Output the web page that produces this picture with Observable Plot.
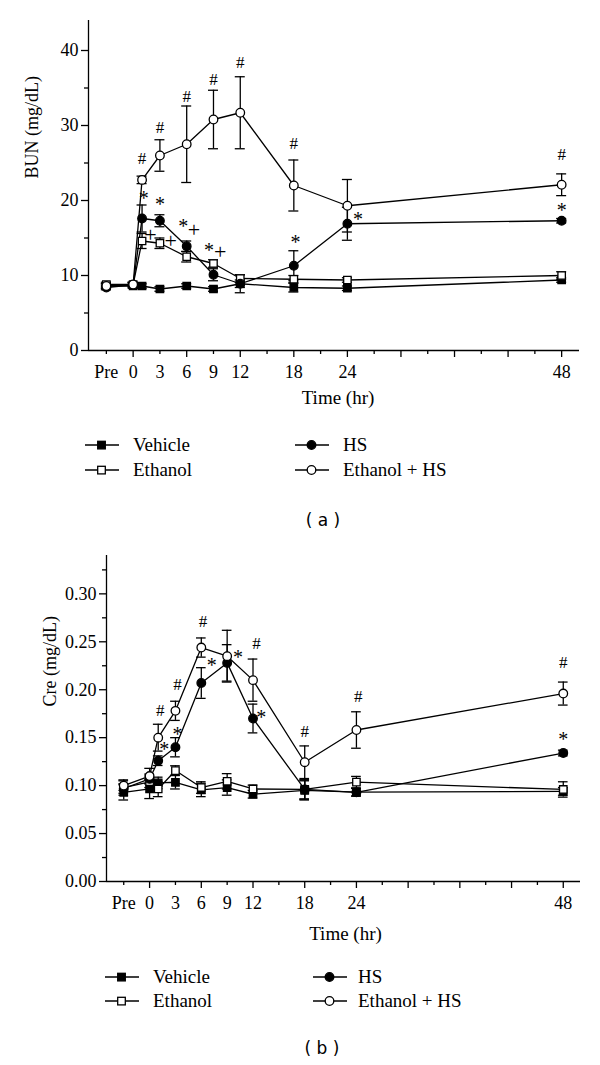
<!DOCTYPE html>
<html>
<head>
<meta charset="utf-8">
<script src="https://cdn.jsdelivr.net/npm/d3@7"></script>
<script src="https://cdn.jsdelivr.net/npm/@observablehq/plot@0.6"></script>
<style>
  body { margin: 0; background: white; }
  #page { position: relative; width: 600px; height: 1065px; background: white; overflow: hidden; }
  .panel { position: absolute; left: 0; }
  .leg { position: absolute; font-family: "Liberation Serif", serif; font-size: 19px; color: black; white-space: nowrap; line-height: 1; }
  .leg svg { position: absolute; }
  .cap { position: absolute; font-family: "DejaVu Sans", sans-serif; font-size: 17px; color: black; transform: translate(-50%, -50%); white-space: pre; }
</style>
</head>
<body>
<div id="page"></div>
<script>
// ---------- data ----------
const hours = [-3, 0, 1, 3, 6, 9, 12, 18, 24, 48];
const xLabelHours = [-3, 0, 3, 6, 9, 12, 18, 24, 48];
const xLabels = ["Pre", "0", "3", "6", "9", "12", "18", "24", "48"];
const xMajorTicks = [0, 6, 12, 18, 24, 30, 36, 42, 48];
const xMinorTicks = [-3, 3, 9, 15, 21, 27, 33, 39, 45];
const seriesNames = ["Vehicle", "Ethanol", "HS", "Ethanol + HS"];

// Panel (a): BUN (mg/dL)
const bunTicks = [0, 10, 20, 30, 40];
const bunMinorTicks = [5, 15, 25, 35];
const bunVehicle = [8.6, 8.6, 8.6, 8.2, 8.6, 8.2, 8.9, 8.4, 8.3, 9.4];
const bunVehicleErr = [0.3, 0.3, 0.3, 0.3, 0.3, 0.3, 1.2, 0.6, 0.3, 0.3];
const bunEthanol = [8.8, 8.8, 14.6, 14.3, 12.5, 11.6, 9.6, 9.5, 9.4, 10.0];
const bunEthanolErr = [0.3, 0.3, 1.0, 0.7, 0.7, 0.5, 0.5, 0.5, 0.3, 0.5];
const bunHS = [8.4, 8.75, 17.6, 17.3, 13.9, 10.1, 8.9, 11.3, 16.9, 17.3];
const bunHSErr = [0.3, 0.3, 1.8, 0.8, 0.7, 0.8, 0.5, 2.0, 2.2, 0.3];
const bunEHS = [8.6, 8.8, 22.75, 26.0, 27.5, 30.8, 31.7, 22.0, 19.3, 22.1];
const bunEHSErr = [0.3, 0.3, 0.5, 2.1, 5.1, 3.9, 4.8, 3.4, 3.5, 1.45];
const bunMarkHour = [1, 3, 6, 9, 12, 18, 48, 1.2, 3, 5.6, 8.5, 18.2, 25.2, 48, 1.95, 4.2, 6.8, 9.75];
const bunMarkValue = [25.6, 29.7, 33.8, 36.1, 38.4, 27.6, 26.1, 20.8, 20.0, 17.0, 13.9, 14.9, 18.0, 19.2, 15.6, 14.75, 16.2, 13.3];
const bunMarkText = ["#", "#", "#", "#", "#", "#", "#", "*", "*", "*", "*", "*", "*", "*", "+", "+", "+", "+"];

// Panel (b): Cre (mg/dL)
const creTicks = [0, 0.05, 0.10, 0.15, 0.20, 0.25, 0.30];
const creMinorTicks = [0.025, 0.075, 0.125, 0.175, 0.225, 0.275, 0.325];
const creVehicle = [0.093, 0.0965, 0.1028, 0.1035, 0.0955, 0.098, 0.091, 0.095, 0.0932, 0.094];
const creVehicleErr = [0.008, 0.01, 0.006, 0.007, 0.007, 0.008, 0.004, 0.01, 0.004, 0.004];
const creEthanol = [0.098, 0.104, 0.0965, 0.1157, 0.098, 0.1045, 0.0965, 0.096, 0.1036, 0.096];
const creEthanolErr = [0.008, 0.006, 0.008, 0.005, 0.006, 0.008, 0.004, 0.01, 0.006, 0.008];
const creHS = [0.097, 0.107, 0.126, 0.140, 0.207, 0.228, 0.170, 0.096, 0.093, 0.134];
const creHSErr = [0.005, 0.005, 0.005, 0.01, 0.016, 0.019, 0.015, 0.01, 0.004, 0.003];
const creEHS = [0.100, 0.110, 0.150, 0.178, 0.244, 0.235, 0.210, 0.1244, 0.158, 0.196];
const creEHSErr = [0.005, 0.008, 0.014, 0.01, 0.01, 0.027, 0.022, 0.017, 0.019, 0.012];
const creMarkHour = [1.24, 3.25, 6.2, 12.4, 18, 24.2, 48, 1.7, 3.25, 7.2, 10.25, 12.97, 48];
const creMarkValue = [0.178, 0.2056, 0.2707, 0.248, 0.1564, 0.1933, 0.228, 0.142, 0.1575, 0.229, 0.2376, 0.1756, 0.152];
const creMarkText = ["#", "#", "#", "#", "#", "#", "#", "*", "*", "*", "*", "*", "*"];

// ---------- helpers ----------
function rows(values, errs, name) {
  return hours.map((h, i) => ({h, v: values[i], e: errs[i], s: name}));
}
function marksRows(hs, vs, ts) {
  return hs.map((h, i) => ({h, v: vs[i], t: ts[i]}));
}
const styles = {
  "Vehicle": {symbol: "square", fill: "black", r: 4.2},
  "Ethanol": {symbol: "square", fill: "white", r: 4.2},
  "HS": {symbol: "circle", fill: "black", r: 4.3},
  "Ethanol + HS": {symbol: "circle", fill: "white", r: 4.3}
};

function makePanel(cfg) {
  const all = cfg.series.flat();
  const cap = 0.56;
  const marks = [
    Plot.ruleY([0], {stroke: "black", strokeWidth: 1.3}),
    Plot.ruleX([-5], {stroke: "black", strokeWidth: 1.3}),
    Plot.axisY(cfg.yTicks, {tickSize: 7, tickPadding: 3, tickFormat: cfg.yFormat, label: null, strokeWidth: 1.3}),
    Plot.axisY(cfg.yMinor, {tickSize: 4, tickFormat: () => "", label: null, strokeWidth: 1.3}),
    Plot.axisX(xMajorTicks, {tickSize: 7, tickFormat: () => "", label: null, strokeWidth: 1.3}),
    Plot.axisX(xMinorTicks, {tickSize: 4, tickFormat: () => "", label: null, strokeWidth: 1.3}),
    Plot.text(xLabelHours, {x: d => d, text: (d, i) => xLabels[i], frameAnchor: "bottom", dy: 22, lineAnchor: "middle", fontSize: 18}),
    Plot.text(["Time (hr)"], {frameAnchor: "bottom", dx: cfg.titleDx, dy: cfg.titleDy, lineAnchor: "middle", fontSize: 19}),
    Plot.text([cfg.yLabel], {frameAnchor: "left", rotate: -90, dx: cfg.yLabelDx, dy: cfg.yLabelDy, lineAnchor: "middle", fontSize: 18}),
    Plot.line(all, {x: "h", y: "v", z: "s", stroke: "black", strokeWidth: 1.3}),
    Plot.ruleX(all, {x: "h", y1: d => d.v - d.e, y2: d => d.v + d.e, stroke: "black", strokeWidth: 1.3}),
    Plot.ruleY(all, {y: d => d.v + d.e, x1: d => d.h - cap, x2: d => d.h + cap, stroke: "black", strokeWidth: 1.3}),
    Plot.ruleY(all, {y: d => d.v - d.e, x1: d => d.h - cap, x2: d => d.h + cap, stroke: "black", strokeWidth: 1.3})
  ];
  for (const s of cfg.series) {
    const st = styles[s[0].s];
    marks.push(Plot.dot(s, {x: "h", y: "v", symbol: st.symbol, r: st.r, fill: st.fill, stroke: "black", strokeWidth: 1.3}));
  }
  marks.push(Plot.text(cfg.ann.filter(d => d.t === "#"), {x: "h", y: "v", text: "t", fontSize: 17, lineAnchor: "middle"}));
  marks.push(Plot.text(cfg.ann.filter(d => d.t === "+"), {x: "h", y: "v", text: "t", fontSize: 22, lineAnchor: "middle", dy: 1}));
  marks.push(Plot.text(cfg.ann.filter(d => d.t === "*"), {x: "h", y: "v", text: "t", fontSize: 20, lineAnchor: "middle", dy: 4}));
  return Plot.plot({
    width: 600,
    height: cfg.height,
    marginTop: 20,
    marginBottom: 60,
    marginLeft: cfg.marginLeft,
    marginRight: cfg.marginRight,
    style: {fontFamily: "'Liberation Serif', serif", fontSize: "18px", fontWeight: "normal", color: "black", background: "white", overflow: "visible"},
    x: {domain: [-5, 50], axis: null},
    y: {domain: cfg.yDomain, axis: null},
    marks
  });
}

const pageEl = document.getElementById("page");

const chartA = makePanel({
  height: 410, marginLeft: 88, marginRight: 21, yDomain: [0, 44],
  yTicks: bunTicks, yMinor: bunMinorTicks, yFormat: d => String(d),
  yLabel: "BUN (mg/dL)", yLabelDx: -56, yLabelDy: -7, titleDx: 4, titleDy: 47,
  series: [rows(bunVehicle, bunVehicleErr, "Vehicle"), rows(bunEthanol, bunEthanolErr, "Ethanol"),
           rows(bunHS, bunHSErr, "HS"), rows(bunEHS, bunEHSErr, "Ethanol + HS")],
  ann: marksRows(bunMarkHour, bunMarkValue, bunMarkText)
});
const wrapA = document.createElement("div");
wrapA.className = "panel"; wrapA.style.top = "0px";
wrapA.appendChild(chartA); pageEl.appendChild(wrapA);

const chartB = makePanel({
  height: 406, marginLeft: 106, marginRight: 20, yDomain: [0, 0.34],
  yTicks: creTicks, yMinor: creMinorTicks, yFormat: d3.format(".2f"),
  yLabel: "Cre (mg/dL)", yLabelDx: -56, yLabelDy: -12, titleDx: 2, titleDy: 52,
  series: [rows(creVehicle, creVehicleErr, "Vehicle"), rows(creEthanol, creEthanolErr, "Ethanol"),
           rows(creHS, creHSErr, "HS"), rows(creEHS, creEHSErr, "Ethanol + HS")],
  ann: marksRows(creMarkHour, creMarkValue, creMarkText)
});
const wrapB = document.createElement("div");
wrapB.className = "panel"; wrapB.style.top = "535px";
wrapB.appendChild(chartB); pageEl.appendChild(wrapB);

// ---------- legends & captions ----------
function swatch(name) {
  const st = styles[name];
  const mk = st.symbol === "square"
    ? `<rect x="12.7" y="3.3" width="7.6" height="7.6" fill="${st.fill}" stroke="black" stroke-width="1.3"/>`
    : `<circle cx="16.5" cy="7" r="4.3" fill="${st.fill}" stroke="black" stroke-width="1.3"/>`;
  return `<svg width="34" height="14" viewBox="0 0 34 14"><line x1="0" y1="7" x2="34" y2="7" stroke="black" stroke-width="1.3"/>${mk}</svg>`;
}
function legend(items) {
  for (const it of items) {
    const d = document.createElement("div");
    d.className = "leg";
    d.style.left = it.sx + "px";
    d.style.top = (it.y - 7) + "px";
    d.innerHTML = swatch(it.name) + `<span style="position:absolute;left:${it.tx - it.sx}px;top:-3px;">${it.name}</span>`;
    pageEl.appendChild(d);
  }
}
legend([
  {name: seriesNames[0], sx: 85, tx: 133, y: 445},
  {name: seriesNames[1], sx: 85, tx: 133, y: 470},
  {name: seriesNames[2], sx: 295, tx: 343, y: 445},
  {name: seriesNames[3], sx: 295, tx: 343, y: 470},
  {name: seriesNames[0], sx: 105, tx: 153, y: 977},
  {name: seriesNames[1], sx: 105, tx: 153, y: 1001},
  {name: seriesNames[2], sx: 313, tx: 358, y: 977},
  {name: seriesNames[3], sx: 313, tx: 358, y: 1001}
]);
function caption(text, x, y) {
  const c = document.createElement("div");
  c.className = "cap"; c.textContent = text;
  c.style.left = x + "px"; c.style.top = y + "px";
  pageEl.appendChild(c);
}
caption("( a )", 323, 520);
caption("( b )", 322, 1048);
</script>
</body>
</html>
